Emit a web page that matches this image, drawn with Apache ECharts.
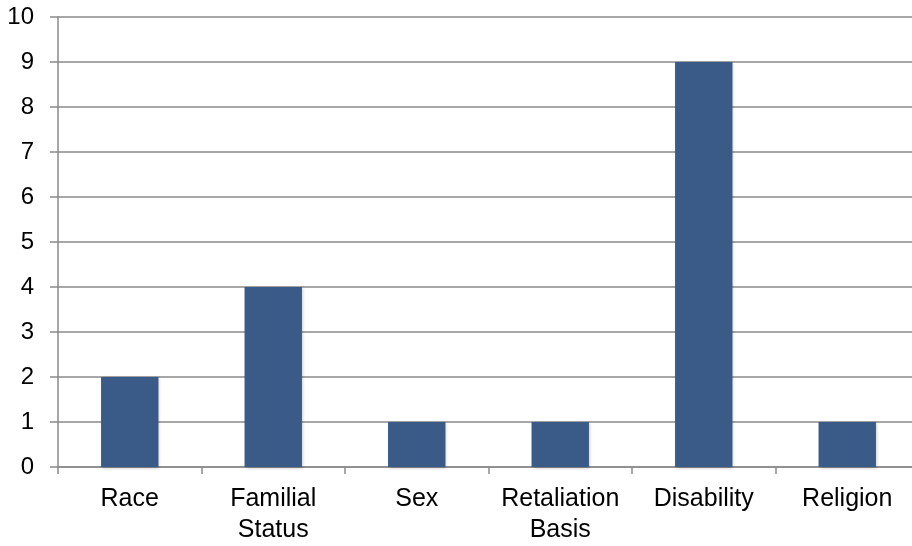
<!DOCTYPE html>
<html>
<head>
<meta charset="utf-8">
<script src="https://cdn.jsdelivr.net/npm/echarts@6/dist/echarts.min.js"></script>
<style>html,body{margin:0;padding:0;background:#fff;overflow:hidden;width:912px;height:546px}#c{width:930px;height:546px}</style>
</head>
<body>
<div id="c"></div>
<script>
const categories = ["Race", "Familial\nStatus", "Sex", "Retaliation\nBasis", "Disability", "Religion"];
const values = [2, 4, 1, 1, 9, 1];
const yTicks = [0, 1, 2, 3, 4, 5, 6, 7, 8, 9, 10];

const chart = echarts.init(document.getElementById('c'), null, {renderer: 'canvas'});
const gridColor = '#8a8a8a';
chart.setOption({
  animation: false,
  grid: {left: 58, top: 17, width: 861, height: 452, containLabel: false},
  xAxis: {
    type: 'category',
    data: categories,
    axisLine: {show: true, lineStyle: {color: gridColor, width: 1.5}},
    axisTick: {show: true, length: 7, lineStyle: {color: gridColor, width: 1.5}},
    axisLabel: {color: '#000', fontSize: 25, fontFamily: 'Liberation Sans, Arial', lineHeight: 31, margin: 17, interval: 0}
  },
  yAxis: {
    type: 'value',
    min: yTicks[0],
    max: yTicks[yTicks.length - 1],
    interval: 1,
    axisLine: {show: true, lineStyle: {color: gridColor, width: 1.5}},
    axisTick: {show: true, length: 8, lineStyle: {color: gridColor, width: 1.5}},
    splitLine: {show: true, lineStyle: {color: gridColor, width: 1.5}},
    axisLabel: {color: '#000', fontSize: 24, fontFamily: 'Liberation Sans, Arial', margin: 24}
  },
  series: [{
    type: 'bar',
    data: values,
    barCategoryGap: '60%',
    itemStyle: {color: '#3a5b87', shadowColor: 'rgba(0,0,0,0.25)', shadowBlur: 3, shadowOffsetX: 1, shadowOffsetY: 1}
  }]
});
</script>
</body>
</html>
